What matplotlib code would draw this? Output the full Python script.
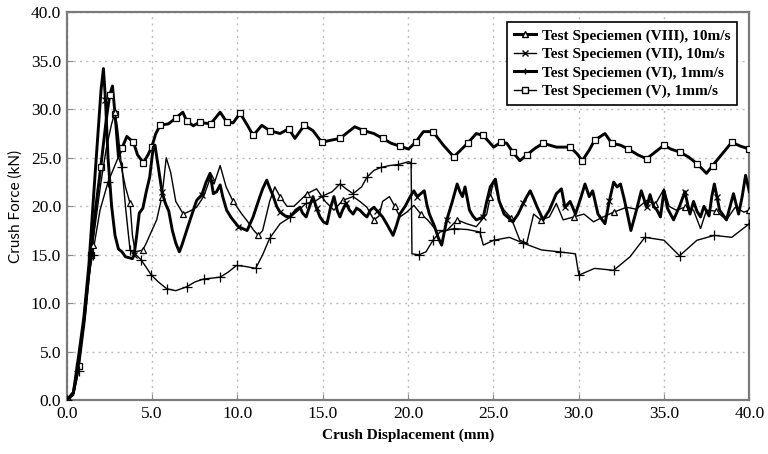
import matplotlib
matplotlib.use("Agg")
import matplotlib.pyplot as plt
from matplotlib.lines import Line2D
import numpy as np

# %% data
vii = [(0,0),(0.39,0.8),(0.69,4.5),(1.0,8.5),(1.30,14),(1.61,22),(1.91,29.5),(2.01,32),(2.15,34.2),(2.27,31),
       (2.42,25),(2.63,20),(2.83,17),(3.03,15.6),(3.24,15.3),(3.44,14.8),(3.64,14.7),(3.85,14.6),(3.95,15),(4.10,17),
       (4.25,19.3),(4.46,19.8),(4.66,21.5),(4.86,23),(5.07,26.1),(5.17,26.3),(5.37,24),(5.58,21.5),(5.78,20.3),(5.98,19.5),
       (6.19,17.5),(6.39,16.2),(6.60,15.3),(6.75,16),(7.21,18.5),(7.61,20.6),(7.92,21.2),(8.17,22.5),(8.40,23.4),(8.59,21.3),
       (8.78,21.5),(8.99,22.2),(9.14,21),(9.37,19.6),(9.65,18.8),(10.06,17.9),(10.57,17.5),(10.92,18.9),(11.28,20.8),(11.48,21.8),
       (11.72,22.7),(11.89,21.9),(12.09,21.1),(12.30,20),(12.50,19.4),(12.81,19.0),(13.09,18.9),(13.42,19.6),(13.67,19.9),(13.82,19.3),
       (14.03,18.9),(14.23,20.0),(14.43,21.0),(14.64,19.8),(14.84,18.9),(15.04,18.4),(15.25,18.2),(15.45,19.8),(15.66,21.0),(15.86,19.5),
       (16.01,18.9),(16.16,19.6),(16.37,20.3),(16.57,19.6),(16.78,19.2),(16.98,19.8),(17.18,19.6),(17.39,19.2),(17.59,18.9),(17.79,19.6),
       (18.0,19.9),(18.2,19.5),(18.51,18.9),(18.81,18.0),(19.12,17.0),(19.32,18.0),(19.52,19.2),(19.83,20.0),(20.13,21.0),(20.34,21.6),
       (20.54,21.0),(20.75,21.3),(20.95,21.6),(21.10,20.2),(21.25,19.2),(21.56,17.9),(21.76,16.8),(21.97,16.0),(22.12,17.3),(22.27,18.6),
       (22.58,20.4),(22.88,22.3),(23.04,21.5),(23.19,21.0),(23.34,22.0),(23.60,19.6),(23.80,19.0),(24.0,18.6),(24.41,18.9),(24.61,20.5),
       (24.82,22.0),(25.12,22.8),(25.33,20.6),(25.63,19.2),(25.89,18.8),(26.14,18.4),(26.45,19.2),(26.75,20.3),(26.96,21.0),(27.16,21.6),
       (27.36,20.8),(27.57,19.9),(27.92,18.6),(28.28,19.6),(28.69,21.3),(28.99,21.8),(29.19,19.9),(29.50,20.5),(29.81,19.2),(30.11,20.8),
       (30.37,22.3),(30.62,21.0),(30.82,21.6),(31.13,19.2),(31.54,18.2),(31.79,20.5),(32.05,22.5),(32.25,22.0),(32.45,22.3),(32.66,20.8),
       (32.81,19.6),(33.06,17.5),(33.37,19.5),(33.67,21.6),(33.98,19.9),(34.18,21.2),(34.39,20.0),(34.59,19.6),(34.79,18.9),(35.0,21.6),
       (35.2,19.8),(35.56,18.6),(35.91,20.0),(36.22,21.5),(36.52,19.2),(36.73,20.5),(36.93,19.5),(37.14,18.9),(37.34,20.0),(37.64,19.0),
       (37.80,21.0),(37.95,22.3),(38.10,21.0),(38.26,19.6),(38.66,18.6),(38.87,20.0),(39.07,21.3),(39.37,19.2),(39.58,21.0),(39.78,23.2),
       (40.0,21.5)]

v = [(0,0),(0.39,0.8),(0.69,3.5),(1.02,8.1),(1.40,15),(1.71,20),(1.99,24.0),(2.32,29),(2.52,31.5),(2.68,32.4),
     (2.83,29.5),(3.03,25.1),(3.24,26.0),(3.52,27.2),(3.91,26.6),(4.15,25.3),(4.49,24.5),(4.76,25.3),(4.98,26.1),(5.22,27.5),
     (5.47,28.35),(5.96,28.5),(6.39,29.1),(6.80,29.7),(7.03,28.8),(7.41,28.3),(7.82,28.7),(7.99,28.6),(8.43,28.5),(8.99,29.7),
     (9.37,28.7),(9.75,28.6),(10.16,29.6),(10.57,28.4),(10.93,27.3),(11.43,28.35),(11.89,27.8),(12.50,27.5),(13.01,28.0),(13.37,27.0),
     (13.92,28.35),(14.43,27.8),(14.94,26.6),(15.45,26.8),(16.01,27.0),(16.88,28.2),(17.39,27.8),(18.0,27.5),(18.51,27.0),(19.01,26.5),
     (19.52,26.2),(20.03,25.9),(20.44,26.6),(20.90,27.7),(21.46,27.7),(22.07,26.3),(22.68,25.1),(23.09,25.8),(23.49,26.5),(24.0,27.5),
     (24.41,27.3),(25.02,26.1),(25.43,26.6),(25.78,26.5),(26.14,25.6),(26.55,24.7),(26.96,25.3),(27.46,26.0),(27.92,26.5),(28.69,26.1),
     (29.50,26.1),(29.91,25.4),(30.21,24.7),(30.62,25.8),(30.93,26.8),(31.54,27.5),(31.94,26.5),(32.45,26.3),(32.91,25.9),(33.47,25.3),
     (33.98,24.9),(34.49,25.6),(35.0,26.3),(35.40,25.9),(35.91,25.6),(36.42,25.1),(36.93,24.4),(37.49,23.4),(37.85,24.2),(38.36,25.3),
     (38.97,26.6),(39.48,26.2),(40.0,25.9)]

viii = [(0,0),(0.39,0.6),(0.69,3.5),(1.10,9),(1.51,16),(1.99,22.3),(2.32,26),(2.63,28.5),(2.83,29.7),(2.98,28),
        (3.24,23.7),(3.44,22),(3.71,20.3),(3.85,17),(4.01,15.3),(4.25,15.4),(4.46,15.5),(4.66,16.2),(4.86,17.0),(5.27,18.6),
        (5.58,21.0),(5.83,25.0),(6.09,23.5),(6.39,20.5),(6.83,19.2),(7.21,19.5),(7.61,19.9),(8.02,21.0),(8.43,23.0),(8.63,22.3),
        (8.99,24.2),(9.34,22.0),(9.75,20.5),(10.26,19.2),(10.57,18.5),(10.97,17.5),(11.23,17.0),(11.48,17.5),(11.89,20.5),(12.19,22.0),
        (12.50,21.0),(12.91,20.0),(13.31,20.0),(13.67,20.6),(14.08,21.3),(14.64,21.8),(15.15,20.5),(15.66,19.6),(16.16,20.6),(16.78,21.0),
        (17.18,20.5),(17.59,19.9),(18.0,18.6),(18.30,19.0),(18.51,20.5),(18.91,21.0),(19.22,20.0),(19.52,18.9),(19.93,19.4),(20.34,20.1),
        (20.75,19.2),(21.15,18.6),(21.66,17.5),(22.27,17.5),(22.88,18.6),(23.44,18.2),(24.0,17.9),(24.61,19.2),(24.82,21.0),(25.02,22.7),
        (25.33,20.5),(25.63,19.6),(26.04,18.8),(26.55,16.5),(26.96,16.2),(27.36,19.2),(27.77,18.6),(28.28,18.9),(28.69,20.3),(29.09,18.6),
        (29.70,18.9),(30.31,19.2),(30.87,18.4),(31.43,18.9),(32.05,19.4),(32.81,19.9),(33.37,19.7),(33.98,20.6),(34.49,20.2),(35.0,21.8),
        (35.30,20.0),(35.71,19.6),(36.22,19.9),(36.73,19.6),(37.14,17.7),(37.49,19.6),(38.05,19.5),(38.66,18.6),(39.17,19.9),(39.68,19.4),
        (40.0,19.6)]

vi = [(0,0),(0.39,0.5),(0.69,3),(1.08,10.3),(1.51,15),(1.95,19.6),(2.42,22.5),(3.03,25.1),(3.24,24.0),(3.44,20.0),
      (3.71,15.5),(4.05,15.0),(4.35,14.5),(4.66,13.7),(4.96,12.9),(5.37,12.2),(5.86,11.5),(6.39,11.3),(7.03,11.7),(7.51,12.2),
      (8.02,12.5),(8.53,12.6),(8.99,12.7),(9.45,13.2),(9.95,13.9),(10.46,13.8),(11.07,13.6),(11.48,15.0),(11.89,16.7),(12.50,18.2),
      (13.11,18.9),(13.52,19.5),(14.03,20.3),(14.54,20.5),(15.04,21.1),(15.55,21.5),(16.01,22.3),(16.37,21.8),(16.78,21.3),(17.28,22.0),
      (17.59,23.0),(18.0,23.7),(18.40,24.0),(18.91,24.2),(19.42,24.3),(20.03,24.6),(20.18,24.5),(20.23,15.1),(20.64,15.0),(21.05,15.3),
      (21.46,16.5),(21.87,17.35),(22.68,17.7),(23.49,17.6),(24.21,17.35),(24.41,16.0),(25.02,16.5),(25.94,16.8),(26.75,16.2),(27.82,15.5),
      (28.89,15.3),(29.81,15.1),(30.01,12.9),(30.93,13.6),(32.05,13.4),(33.01,14.8),(33.88,16.8),(35.0,16.5),(35.91,14.9),(36.93,16.5),
      (37.95,17.0),(38.97,16.8),(40.0,18.2)]

labels = ["Test Speciemen (VIII), 10m/s", "Test Speciemen (VII), 10m/s",
          "Test Speciemen (VI), 1mm/s", "Test Speciemen (V), 1mm/s"]
ticks = np.arange(0, 45, 5)

# %% plot
serif = "Liberation Serif"
fig = plt.figure(figsize=(7.68, 4.54), dpi=100)
ax = fig.add_axes([0.0869, 0.1183, 0.8888, 0.8546])

def draw(data, lw, marker, every, ms):
    x, y = zip(*data)
    ax.plot(x, y, color="black", lw=lw, marker=marker, markevery=every, ms=ms,
            mfc="white", mec="black", mew=0.9, zorder=3)

draw(v, 2.1, "s", 2, 4.5)
draw(vi, 1.0, "+", 2, 7)
draw(viii, 1.0, "^", 4, 4.5)
draw(vii, 2.1, "x", 9, 5)

ax.set_xlim(0, 40)
ax.set_ylim(0, 40)
ax.set_xticks(ticks)
ax.set_yticks(ticks)
ax.set_xticklabels(["%.1f" % t for t in ticks], fontfamily=serif, fontsize=12.5)
ax.set_yticklabels(["%.1f" % t for t in ticks], fontfamily=serif, fontsize=12.5)
ax.tick_params(direction="in", length=4, color="#888888", pad=4)
ax.grid(True, color="#bdbdbd", ls=(0, (1.5, 3)), lw=1)
for s in ax.spines.values():
    s.set_color("#7a7a7a")
    s.set_linewidth(1.6)

ax.set_xlabel("Crush Displacement (mm)", fontfamily=serif, fontweight="bold", fontsize=11, labelpad=5)
ax.set_ylabel("Crush Force (kN)", fontfamily="Lato", fontsize=11, labelpad=6)

# legend drawn as in the reference (line weights as printed there)
handles = [Line2D([], [], color="black", lw=2.2, marker="^", ms=4, mfc="white"),
           Line2D([], [], color="black", lw=1.0, marker="x", ms=4),
           Line2D([], [], color="black", lw=2.2, marker="+", ms=5),
           Line2D([], [], color="black", lw=1.0, marker="s", ms=4, mfc="white")]
leg = ax.legend(handles, labels, loc="upper right", bbox_to_anchor=(0.982, 0.975),
                prop={"family": serif, "weight": "bold", "size": 11}, fancybox=False,
                edgecolor="black", framealpha=1, handlelength=1.4, handletextpad=0.4,
                labelspacing=0.3, borderpad=0.45, borderaxespad=0)
leg.get_frame().set_linewidth(1.2)

fig.savefig("out.png", dpi=100)
